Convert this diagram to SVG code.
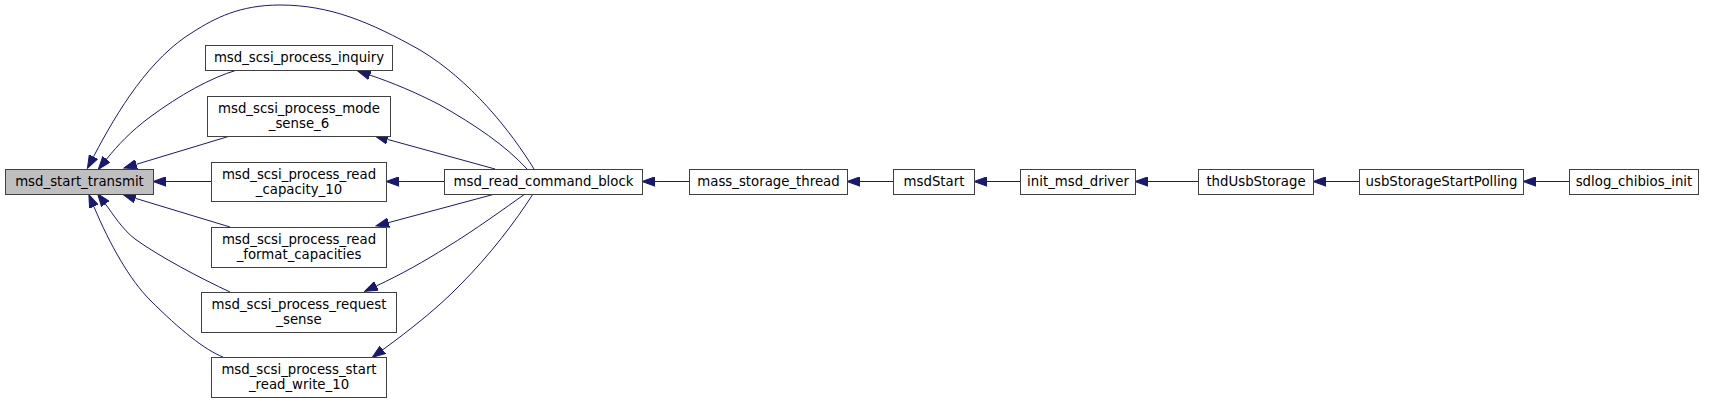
<svg xmlns="http://www.w3.org/2000/svg" width="1721" height="403" viewBox="0 0 1721 403">
<defs>
<style>
.n rect{fill:#ffffff;stroke:#404040;stroke-width:1}
.n.cur rect{fill:#bfbfbf}
.n text{font-family:"DejaVu Sans","Liberation Sans",sans-serif;font-size:13.3px;fill:#000;text-anchor:middle}
.e path{fill:none;stroke:#191970;stroke-width:1}
</style>
<marker id="ah" markerUnits="userSpaceOnUse" markerWidth="14" markerHeight="10" refX="0" refY="5" orient="auto" viewBox="0 0 14 10">
<polygon points="0,0.3 13,5 0,9.7" fill="#191970" stroke="#191970" stroke-width="1"/>
</marker>
</defs>
<rect width="1721" height="403" fill="#ffffff"/>
<g id="edges" class="e">
<path marker-end="url(#ah)" d="M534,169 C510,130 470,80 420,50 C370,22 330,5 280,5 C240,5 215,18 193,32 C150,58 118,110 93.5,156.7"/>
<path marker-end="url(#ah)" d="M237,70 C210,78 180,95 150,117 C130,132 118,145 106.5,159.2"/>
<path marker-end="url(#ah)" d="M230,136 L136.4,164.3"/>
<path marker-end="url(#ah)" d="M211,181.5 L166,181.5"/>
<path marker-end="url(#ah)" d="M230,227 L135.4,198.3"/>
<path marker-end="url(#ah)" d="M230,292 C200,278 160,257 135,239 C122,229 113,214 105.4,204"/>
<path marker-end="url(#ah)" d="M223,357 C205,350 180,330 150,300 C130,280 110,245 93.9,206.6"/>
<path marker-end="url(#ah)" d="M527,169 C505,145 475,125 440,105 C415,92 393,83 370,75.1"/>
<path marker-end="url(#ah)" d="M495,169 L387.5,139.4"/>
<path marker-end="url(#ah)" d="M444,181.5 L399,181.5"/>
<path marker-end="url(#ah)" d="M495,194 L388.6,222.6"/>
<path marker-end="url(#ah)" d="M525,194 C505,208 475,230 447,247 C425,261 400,275 376.4,285.9"/>
<path marker-end="url(#ah)" d="M533,194 C515,222 490,255 460,285 C440,306 410,330 382.8,349.7"/>
<path marker-end="url(#ah)" d="M689,181.5 L655,181.5"/>
<path marker-end="url(#ah)" d="M893,181.5 L860,181.5"/>
<path marker-end="url(#ah)" d="M1020,181.5 L987,181.5"/>
<path marker-end="url(#ah)" d="M1198,181.5 L1148,181.5"/>
<path marker-end="url(#ah)" d="M1359,181.5 L1326,181.5"/>
<path marker-end="url(#ah)" d="M1569,181.5 L1536,181.5"/>
</g>
<g id="node_msd_start_transmit" class="n cur"><rect x="5.5" y="169.5" width="148" height="25"/><text x="79.5" y="186">msd_start_transmit</text></g>
<g id="node_inquiry" class="n"><rect x="205.5" y="45.5" width="187" height="25"/><text x="299" y="62">msd_scsi_process_inquiry</text></g>
<g id="node_mode_sense_6" class="n"><rect x="207.5" y="96.5" width="183" height="40"/><text x="299" y="113">msd_scsi_process_mode</text><text x="299" y="128">_sense_6</text></g>
<g id="node_read_capacity_10" class="n"><rect x="211.5" y="162.5" width="175" height="39"/><text x="299" y="178.5">msd_scsi_process_read</text><text x="299" y="193.5">_capacity_10</text></g>
<g id="node_read_format_capacities" class="n"><rect x="211.5" y="227.5" width="175" height="40"/><text x="299" y="244">msd_scsi_process_read</text><text x="299" y="259">_format_capacities</text></g>
<g id="node_request_sense" class="n"><rect x="201.5" y="292.5" width="195" height="40"/><text x="299" y="309">msd_scsi_process_request</text><text x="299" y="324">_sense</text></g>
<g id="node_start_read_write_10" class="n"><rect x="211.5" y="357.5" width="175" height="40"/><text x="299" y="374">msd_scsi_process_start</text><text x="299" y="389">_read_write_10</text></g>
<g id="node_msd_read_command_block" class="n"><rect x="444.5" y="169.5" width="198" height="25"/><text x="543.5" y="186">msd_read_command_block</text></g>
<g id="node_mass_storage_thread" class="n"><rect x="689.5" y="169.5" width="158" height="25"/><text x="768.5" y="186">mass_storage_thread</text></g>
<g id="node_msdStart" class="n"><rect x="893.5" y="169.5" width="81" height="25"/><text x="934" y="186">msdStart</text></g>
<g id="node_init_msd_driver" class="n"><rect x="1020.5" y="169.5" width="115" height="25"/><text x="1078" y="186">init_msd_driver</text></g>
<g id="node_thdUsbStorage" class="n"><rect x="1198.5" y="169.5" width="115" height="25"/><text x="1256" y="186">thdUsbStorage</text></g>
<g id="node_usbStorageStartPolling" class="n"><rect x="1359.5" y="169.5" width="164" height="25"/><text x="1441.5" y="186">usbStorageStartPolling</text></g>
<g id="node_sdlog_chibios_init" class="n"><rect x="1569.5" y="169.5" width="129" height="25"/><text x="1634" y="186">sdlog_chibios_init</text></g>
</svg>
